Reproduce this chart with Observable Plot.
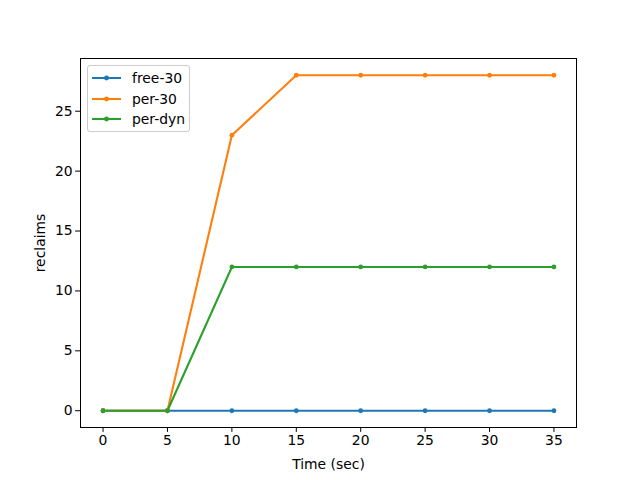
<!DOCTYPE html>
<html>
<head>
<meta charset="utf-8">
<script src="https://cdn.jsdelivr.net/npm/d3@7"></script>
<script src="https://cdn.jsdelivr.net/npm/@observablehq/plot@0.6"></script>
<style>
  body { margin: 0; background: #fff; }
  #wrap { position: relative; width: 640px; height: 480px; font-family: "DejaVu Sans", sans-serif; }
  #legend { position: absolute; left: 87px; top: 65px; width: 103px; height: 67px;
    border: 1px solid #cccccc; border-radius: 3px; background: rgba(255,255,255,0.8);
    box-sizing: border-box; }
  .row { position: absolute; left: 0; height: 20px; width: 100%; }
  .row svg { position: absolute; left: 4px; top: 0; }
  .row span { position: absolute; left: 44px; top: 1px; font-size: 13.9px; color: #000; line-height: 18px; }
</style>
</head>
<body>
<div id="wrap"></div>
<script>
const times = [0, 5, 10, 15, 20, 25, 30, 35];
const seriesNames = ["free-30", "per-30", "per-dyn"];
const free30 = [0, 0, 0, 0, 0, 0, 0, 0];
const per30 = [0, 0, 23, 28, 28, 28, 28, 28];
const perDyn = [0, 0, 12, 12, 12, 12, 12, 12];
const colors = ["#1f77b4", "#ff7f0e", "#2ca02c"];
const xTicks = [0, 5, 10, 15, 20, 25, 30, 35];
const yTicks = [0, 5, 10, 15, 20, 25];

const seriesValues = [free30, per30, perDyn];
const data = [];
seriesNames.forEach((name, i) => {
  times.forEach((t, j) => data.push({series: name, time: t, value: seriesValues[i][j]}));
});

const chart = Plot.plot({
  width: 640,
  height: 480,
  marginLeft: 80,
  marginRight: 64,
  marginTop: 58,
  marginBottom: 53,
  style: {fontFamily: "DejaVu Sans, sans-serif", fontSize: "13.9px", background: "#fff", color: "#000"},
  x: {domain: [-1.75, 36.75], ticks: xTicks, tickSize: 4.9, tickPadding: 3, label: null},
  y: {domain: [-1.4, 29.4], ticks: yTicks, tickSize: 4.9, tickPadding: 3, label: null},
  color: {domain: seriesNames, range: colors},
  marks: [
    Plot.line(data, {x: "time", y: "value", z: "series", stroke: "series", strokeWidth: 2.1}),
    Plot.dot(data, {x: "time", y: "value", fill: "series", r: 2.4}),
    Plot.axisX({ticks: xTicks, tickSize: 4.9, tickPadding: 3, fontSize: "13.9px", label: "Time (sec)", labelAnchor: "center", labelArrow: "none", labelOffset: 41}),
    Plot.axisY({ticks: yTicks, tickSize: 4.9, tickPadding: 3, fontSize: "13.9px", label: "reclaims", labelAnchor: "center", labelArrow: "none", labelOffset: 45}),
    Plot.frame({stroke: "#000", strokeWidth: 1})
  ]
});
const wrap = document.getElementById("wrap");
wrap.appendChild(chart);

const legend = document.createElement("div");
legend.id = "legend";
seriesNames.forEach((name, i) => {
  const row = document.createElement("div");
  row.className = "row";
  row.style.top = (2 + i * 20.5) + "px";
  row.innerHTML = `<svg width="30" height="20"><line x1="0" x2="29" y1="10" y2="10" stroke="${colors[i]}" stroke-width="2.1"/><circle cx="14.5" cy="10" r="2.4" fill="${colors[i]}"/></svg><span>${name}</span>`;
  legend.appendChild(row);
});
wrap.appendChild(legend);
</script>
</body>
</html>
